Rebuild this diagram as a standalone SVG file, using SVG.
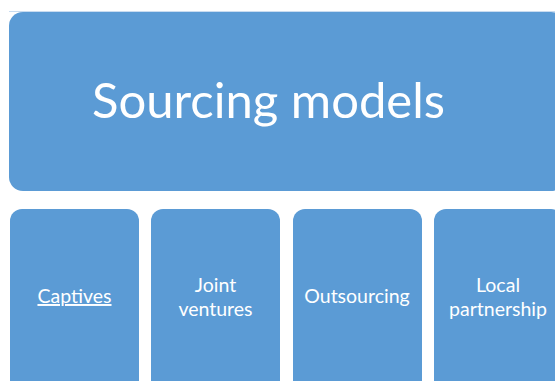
<svg xmlns="http://www.w3.org/2000/svg" width="555" height="381" viewBox="0 0 555 381">
<style>
.box{fill:#5B9BD5;}
.t{fill:#fff;font-family:Lato,"Open Sans","Liberation Sans",sans-serif;text-anchor:middle;}
.s{font-size:19.5px;}
</style>
<rect width="555" height="381" fill="#fff"/>
<line x1="9" y1="11.5" x2="555" y2="11.5" stroke="#c9dcf0" stroke-width="1"/>
<g id="sourcing-models">
<rect class="box" x="9" y="12" width="556" height="179" rx="14"/>
<text class="t" x="268.5" y="118" font-size="49">Sourcing models</text>
</g>
<g id="captives">
<rect class="box" x="10" y="209" width="129" height="185" rx="12"/>
<text class="t s" x="74.5" y="303" text-decoration="underline">Captives</text>
</g>
<g id="joint-ventures">
<rect class="box" x="151" y="209" width="129" height="185" rx="12"/>
<text class="t s" x="215.5" y="292">Joint</text>
<text class="t s" x="215.5" y="316">ventures</text>
</g>
<g id="outsourcing">
<rect class="box" x="293" y="209" width="129" height="185" rx="12"/>
<text class="t s" x="357" y="303">Outsourcing</text>
</g>
<g id="local-partnership">
<rect class="box" x="434" y="209" width="129" height="185" rx="12"/>
<text class="t s" x="498" y="292">Local</text>
<text class="t s" x="498" y="316">partnership</text>
</g>
<g id="connectors"></g>
</svg>
